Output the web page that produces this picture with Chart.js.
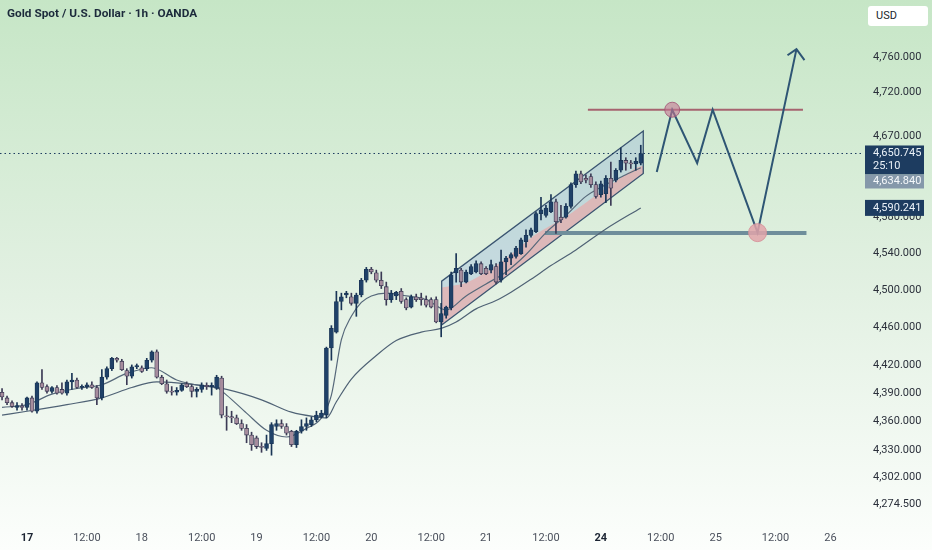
<!DOCTYPE html>
<html>
<head>
<meta charset="utf-8">
<script src="https://cdn.jsdelivr.net/npm/chart.js@4.4.1/dist/chart.umd.min.js"></script>
<style>
  html, body { margin: 0; padding: 0; }
  body {
    width: 932px;
    height: 550px;
    overflow: hidden;
    background: linear-gradient(to bottom, #c6e6c6 0%, #e1f0e1 50%, #fcfefc 100%);
    font-family: Roboto, "Liberation Sans", sans-serif;
  }
  #wrap { position: relative; width: 932px; height: 550px; }
  #title {
    position: absolute; left: 7px; top: 6px;
    font-size: 11.8px; font-weight: bold; color: #1c2a3b;
  }
  #currency {
    position: absolute; left: 868px; top: 6px; width: 60px; height: 20px;
    background: #ffffff; border-radius: 3px;
    font-size: 11px; line-height: 20px; color: #1a1f2b; text-indent: 8px;
  }
</style>
</head>
<body>
<div id="wrap">
  <canvas id="goldChart" width="932" height="550"></canvas>
  <div id="title">Gold Spot / U.S. Dollar · 1h · OANDA</div>
  <div id="currency">USD</div>
</div>
<script>
// hourly bars, index 0 = the "17" session open, 23 bars per session
const firstBar = -5;

const opens = [
  4391, 4385, 4380, 4375, 4376,
  4375, 4385, 4371, 4401, 4397, 4392, 4396, 4394, 4390, 4402, 4404, 4396, 4397, 4399, 4396, 4385, 4407, 4416, 4427, 4424, 4414, 4408, 4418,
  4417, 4416, 4425, 4434, 4407, 4400, 4392, 4391, 4393, 4400, 4397, 4392, 4394, 4398, 4397, 4395, 4406, 4366, 4365, 4364, 4358, 4353, 4346, 4343, 4334,
  4332, 4337, 4355, 4358, 4355, 4350, 4336, 4350, 4355, 4357, 4362, 4365, 4367, 4438, 4455, 4488, 4495, 4493, 4486, 4495, 4511,
  4523, 4519, 4511, 4504, 4490, 4494, 4499, 4490, 4482, 4493, 4492, 4490, 4490, 4490, 4466, 4473, 4481, 4519, 4522, 4509, 4518, 4520, 4529,
  4524, 4522, 4526, 4511, 4531, 4535, 4537, 4540, 4553, 4560, 4564, 4584, 4582, 4586, 4597, 4580, 4580, 4592, 4616, 4628, 4623, 4625, 4616,
  4605, 4606, 4623, 4621, 4632, 4643, 4640, 4639, 4640
];
const highs = [
  4395, 4387, 4382, 4380, 4379,
  4386, 4387, 4402, 4415, 4399, 4397, 4398, 4401, 4404, 4411, 4406, 4399, 4401, 4402, 4398, 4415, 4418, 4428, 4428, 4426, 4416, 4420, 4421,
  4419, 4427, 4435, 4436, 4409, 4404, 4397, 4396, 4400, 4402, 4399, 4396, 4401, 4401, 4401, 4409, 4408, 4376, 4371, 4367, 4362, 4357, 4349, 4345, 4338,
  4346, 4359, 4362, 4362, 4358, 4351, 4351, 4362, 4364, 4365, 4371, 4372, 4439, 4462, 4499, 4497, 4499, 4497, 4497, 4513, 4525,
  4525, 4522, 4520, 4509, 4500, 4499, 4502, 4492, 4495, 4496, 4497, 4494, 4492, 4493, 4486, 4483, 4520, 4540, 4524, 4522, 4528, 4532, 4531,
  4526, 4533, 4529, 4544, 4537, 4541, 4548, 4557, 4566, 4568, 4586, 4602, 4593, 4605, 4600, 4593, 4595, 4618, 4631, 4631, 4627, 4628, 4619,
  4620, 4626, 4641, 4634, 4657, 4646, 4643, 4646, 4660
];
const lows = [
  4383, 4378, 4375, 4372, 4372,
  4372, 4370, 4369, 4394, 4390, 4390, 4389, 4389, 4388, 4394, 4395, 4394, 4395, 4395, 4378, 4383, 4405, 4414, 4423, 4414, 4399, 4406, 4416,
  4412, 4414, 4423, 4406, 4399, 4390, 4388, 4388, 4392, 4396, 4386, 4386, 4391, 4394, 4388, 4394, 4364, 4351, 4359, 4357, 4351, 4338, 4330, 4332, 4328,
  4330, 4325, 4351, 4353, 4346, 4334, 4333, 4348, 4351, 4355, 4360, 4364, 4364, 4425, 4454, 4479, 4492, 4484, 4472, 4493, 4509,
  4518, 4509, 4502, 4484, 4487, 4490, 4486, 4479, 4481, 4488, 4484, 4482, 4481, 4465, 4450, 4470, 4479, 4509, 4504, 4508, 4517, 4519, 4517,
  4517, 4519, 4507, 4509, 4517, 4528, 4535, 4539, 4547, 4558, 4563, 4577, 4580, 4585, 4562, 4574, 4579, 4590, 4613, 4617, 4618, 4613, 4601,
  4602, 4596, 4593, 4619, 4630, 4632, 4634, 4632, 4638
];
const closes = [
  4386, 4380, 4376, 4377, 4375,
  4385, 4371, 4401, 4396, 4392, 4396, 4390, 4390, 4402, 4404, 4396, 4397, 4399, 4396, 4385, 4407, 4416, 4427, 4425, 4415, 4408, 4418, 4419,
  4413, 4425, 4434, 4407, 4400, 4392, 4391, 4393, 4399, 4397, 4392, 4394, 4399, 4397, 4398, 4407, 4367, 4365, 4364, 4358, 4353, 4346, 4336, 4334, 4333,
  4337, 4357, 4358, 4355, 4348, 4336, 4350, 4355, 4358, 4362, 4367, 4369, 4438, 4459, 4488, 4493, 4497, 4486, 4495, 4511, 4523,
  4520, 4511, 4505, 4490, 4497, 4498, 4488, 4481, 4493, 4490, 4490, 4484, 4482, 4466, 4475, 4482, 4517, 4524, 4509, 4520, 4526, 4529, 4518,
  4518, 4528, 4509, 4531, 4535, 4539, 4546, 4555, 4560, 4566, 4584, 4588, 4590, 4597, 4575, 4577, 4592, 4616, 4628, 4619, 4621, 4616, 4603,
  4617, 4623, 4612, 4632, 4643, 4640, 4639, 4642, 4650.745
];

// two moving averages, sampled along their path
const fastBars = [-5, 0, 5, 10, 15, 20, 25, 30, 35, 38, 40, 44, 48, 52, 56, 59, 61, 63, 65, 67, 69, 72, 76, 80, 84, 88, 92, 96, 100, 104, 108, 112, 116, 120, 123];
const fastValues = [4375, 4378, 4389, 4395, 4399, 4411, 4417, 4404, 4398, 4396, 4388, 4369, 4351, 4344, 4353, 4364, 4388, 4447, 4472, 4487, 4494, 4497, 4494, 4490, 4479, 4494, 4507, 4520, 4539, 4563, 4582, 4603, 4616, 4627, 4634.84];
const slowBars = [-5, 0, 8, 15, 21, 26, 30, 35, 40, 47, 53, 58, 60, 62, 65, 70, 74, 79, 83, 86, 90, 94, 97, 101, 105, 110, 116, 123];
const slowValues = [4367, 4371, 4378, 4385, 4396, 4402, 4401, 4398, 4394, 4383, 4370, 4365, 4364, 4381, 4405, 4430, 4446, 4455, 4459, 4466, 4480, 4489, 4498, 4512, 4527, 4544, 4567, 4590.241];

// rising channel drawing
const channelBars = [83.1, 123.5];
const channelUpper = [4510, 4676];
const channelLower = [4462.6, 4628.5];
const redBandBars = [83.1, 88.4, 95.1, 101.7, 108.4, 115, 121.8, 123.5];
const redBandTop = [4503, 4509, 4531, 4560, 4582, 4608, 4634, 4637];

// horizontal levels
const resistanceBars = [112.4, 155.5];
const resistanceLevel = 4700;
const supportBars = [103.8, 156.2];
const supportLevel = 4562.5;

// projected path and arrow head
const pathBars = [126.2, 129.3, 134.3, 137.4, 146.4, 154.2];
const pathValues = [4630, 4700, 4640, 4700, 4563, 4769];
const arrowBars = [152.4, 154.2, 155.8];
const arrowValues = [4762, 4769, 4756.5];
const markerBars = [129.3, 146.4];
const markerValues = [4700, 4563];

// axes
const xTickBars = [0, 12, 23, 35, 46, 58, 69, 81, 92, 104, 115, 127, 138, 150, 161];
const xTickLabels = ['17', '12:00', '18', '12:00', '19', '12:00', '20', '12:00', '21', '12:00', '24', '12:00', '25', '12:00', '26'];
const xBoldLabels = ['17', '24'];
const yTickValues = [4274.5, 4302, 4330, 4360, 4390, 4420, 4460, 4500, 4540, 4580, 4670, 4720, 4760];
const countdown = '25:10';

const xMin = -5.41, xMax = 167.33;
const yMin = 4258.07, yMax = 4825.76;

const upFill = '#1f4168', upEdge = '#1a3556';
const downFill = '#a68c9d', downEdge = '#3b3a55';

function points(xs, ys) {
  return xs.map((x, k) => ({ x: x, y: ys[k] }));
}

function flat(xs, v) {
  return xs.map(x => ({ x: x, y: v }));
}

function fmt(v) {
  return Number(v).toLocaleString('en-US', { minimumFractionDigits: 3, maximumFractionDigits: 3 });
}

const barX = opens.map((_, k) => firstBar + k);
const isUp = opens.map((o, k) => closes[k] >= o);

const lastPrice = closes[closes.length - 1];
const fastLast = fastValues[fastValues.length - 1];
const slowLast = slowValues[slowValues.length - 1];

const channelOutline = [
  { x: channelBars[0], y: channelLower[0] },
  { x: channelBars[0], y: channelUpper[0] },
  { x: channelBars[1], y: channelUpper[1] },
  { x: channelBars[1], y: channelLower[1] },
  { x: channelBars[0], y: channelLower[0] }
];

const priceTags = {
  id: 'priceTags',
  afterDraw(chart) {
    const { ctx, chartArea } = chart;
    const y = chart.scales.y;
    const left = chartArea.right + 3;
    const width = 59;

    ctx.save();
    ctx.font = '11px Roboto';
    ctx.textBaseline = 'middle';
    ctx.textAlign = 'left';

    const lastY = y.getPixelForValue(lastPrice);
    const top1 = lastY - 8;
    ctx.fillStyle = '#1d3c60';
    ctx.fillRect(left, top1, width, 29);
    ctx.fillStyle = '#e9f0f7';
    ctx.fillText(fmt(lastPrice), left + 8, lastY);
    ctx.fillText(countdown, left + 8, lastY + 13);

    const fastY = Math.max(y.getPixelForValue(fastLast), top1 + 29 + 7);
    ctx.fillStyle = '#8598aa';
    ctx.fillRect(left, fastY - 7, width, 14);
    ctx.fillStyle = '#f4f7fa';
    ctx.fillText(fmt(fastLast), left + 8, fastY);

    const slowY = y.getPixelForValue(slowLast);
    ctx.fillStyle = '#1d3c60';
    ctx.fillRect(left, slowY - 8, width, 16);
    ctx.fillStyle = '#e9f0f7';
    ctx.fillText(fmt(slowLast), left + 8, slowY);

    ctx.restore();
  }
};

const ctx = document.getElementById('goldChart').getContext('2d');

Chart.defaults.font.family = 'Roboto';
Chart.defaults.font.size = 11;

new Chart(ctx, {
  type: 'bar',
  data: {
    datasets: [
      // channel: blue band between upper and lower edge
      {
        type: 'line',
        data: points(channelBars, channelUpper),
        borderWidth: 0,
        pointRadius: 0,
        fill: '+1',
        backgroundColor: 'rgba(155, 185, 220, 0.4)',
        order: 100
      },
      {
        type: 'line',
        data: points(channelBars, channelLower),
        borderWidth: 0,
        pointRadius: 0,
        fill: false,
        order: 99
      },
      // channel: red band above the lower edge
      {
        type: 'line',
        data: points(redBandBars, redBandTop),
        borderWidth: 0,
        pointRadius: 0,
        tension: 0.3,
        fill: '-1',
        backgroundColor: 'rgba(240, 160, 158, 0.58)',
        order: 98
      },
      {
        type: 'line',
        data: channelOutline,
        borderColor: '#3a5470',
        borderWidth: 1.3,
        pointRadius: 0,
        fill: false,
        order: 97
      },
      // support / resistance
      {
        type: 'line',
        data: flat(supportBars, supportLevel),
        borderColor: '#6f8e9b',
        borderWidth: 4,
        pointRadius: 0,
        order: 95
      },
      {
        type: 'line',
        data: flat(resistanceBars, resistanceLevel),
        borderColor: '#a6636f',
        borderWidth: 2,
        pointRadius: 0,
        order: 94
      },
      // moving averages
      {
        type: 'line',
        data: points(slowBars, slowValues),
        borderColor: '#4f6275',
        borderWidth: 1.2,
        pointRadius: 0,
        cubicInterpolationMode: 'monotone',
        order: 60
      },
      {
        type: 'line',
        data: points(fastBars, fastValues),
        borderColor: '#56687a',
        borderWidth: 1.2,
        pointRadius: 0,
        cubicInterpolationMode: 'monotone',
        order: 59
      },
      // current price line
      {
        type: 'line',
        data: flat([xMin, xMax], lastPrice),
        borderColor: '#1d3c60',
        borderWidth: 1,
        borderDash: [1.5, 3],
        pointRadius: 0,
        order: 50
      },
      // candles: wicks then bodies
      {
        type: 'bar',
        data: barX.map((x, k) => ({ x: x, y: [lows[k], highs[k]] })),
        backgroundColor: isUp.map(u => (u ? upEdge : downEdge)),
        barThickness: 1,
        grouped: false,
        order: 20
      },
      {
        type: 'bar',
        data: barX.map((x, k) => ({ x: x, y: [opens[k], closes[k]] })),
        backgroundColor: isUp.map(u => (u ? upFill : downFill)),
        borderColor: isUp.map(u => (u ? upEdge : downEdge)),
        borderWidth: 0.8,
        borderSkipped: false,
        barThickness: 4,
        minBarLength: 1.2,
        grouped: false,
        order: 19
      },
      // projected move
      {
        type: 'line',
        data: points(pathBars, pathValues),
        borderColor: '#2e5574',
        borderWidth: 2,
        pointRadius: 0,
        order: 8
      },
      {
        type: 'line',
        data: points(arrowBars, arrowValues),
        borderColor: '#2e5574',
        borderWidth: 2,
        pointRadius: 0,
        order: 7
      },
      {
        type: 'line',
        data: points(markerBars, markerValues),
        showLine: false,
        pointRadius: [7.5, 9],
        pointBackgroundColor: ['rgba(196, 118, 146, 0.6)', 'rgba(226, 164, 170, 0.85)'],
        pointBorderColor: ['rgba(160, 80, 115, 0.8)', 'rgba(214, 146, 154, 0.9)'],
        pointBorderWidth: 1,
        order: 6
      }
    ]
  },
  options: {
    responsive: false,
    animation: false,
    events: [],
    layout: { padding: 0, autoPadding: false },
    plugins: {
      legend: { display: false },
      tooltip: { enabled: false }
    },
    scales: {
      x: {
        type: 'linear',
        min: xMin,
        max: xMax,
        bounds: 'data',
        offset: false,
        grid: { display: false, drawTicks: false },
        border: { display: false },
        afterBuildTicks: scale => {
          scale.ticks = xTickBars.map(v => ({ value: v }));
        },
        afterFit: scale => {
          scale.height = 30;
          scale.paddingLeft = 0;
          scale.paddingRight = 0;
        },
        ticks: {
          autoSkip: false,
          maxRotation: 0,
          padding: 12,
          callback: value => {
            const k = xTickBars.indexOf(value);
            return k >= 0 ? xTickLabels[k] : '';
          },
          font: c => ({
            size: 11,
            weight: c.tick && xBoldLabels.includes(c.tick.label) ? 'bold' : 'normal'
          }),
          color: c => (c.tick && xBoldLabels.includes(c.tick.label) ? '#1c2533' : '#4a505c')
        }
      },
      y: {
        type: 'logarithmic',
        position: 'right',
        min: yMin,
        max: yMax,
        bounds: 'data',
        beginAtZero: false,
        grid: { display: false, drawTicks: false },
        border: { display: false },
        afterBuildTicks: scale => {
          scale.ticks = yTickValues.map(v => ({ value: v }));
        },
        afterFit: scale => {
          scale.width = 70;
          scale.paddingTop = 0;
          scale.paddingBottom = 0;
        },
        ticks: {
          autoSkip: false,
          padding: 11,
          color: '#2b303b',
          callback: value => fmt(value)
        }
      }
    }
  },
  plugins: [priceTags]
});
</script>
</body>
</html>
